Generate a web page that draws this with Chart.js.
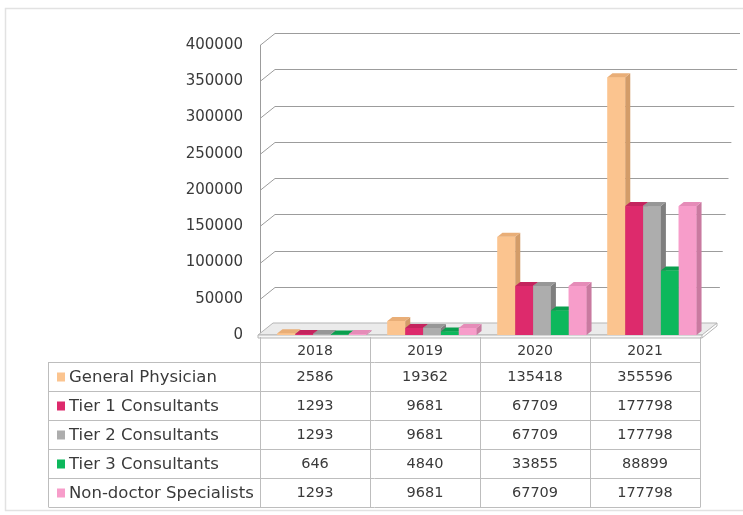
<!DOCTYPE html>
<html>
<head>
<meta charset="utf-8">
<script src="https://cdn.jsdelivr.net/npm/chart.js@4.4.1/dist/chart.umd.min.js"></script>
<style>
  html, body { margin: 0; padding: 0; background: #ffffff; }
  #wrap { position: relative; width: 743px; height: 515px; }
  canvas { display: block; }
</style>
</head>
<body>
<div id="wrap"><canvas id="c" width="743" height="515"></canvas></div>
<script>
// ---- data ----
const categories = ['2018', '2019', '2020', '2021'];
const seriesNames = ['General Physician', 'Tier 1 Consultants', 'Tier 2 Consultants', 'Tier 3 Consultants', 'Non-doctor Specialists'];
const generalPhysician = [2586, 19362, 135418, 355596];
const tier1Consultants = [1293, 9681, 67709, 177798];
const tier2Consultants = [1293, 9681, 67709, 177798];
const tier3Consultants = [646, 4840, 33855, 88899];
const nonDoctorSpecialists = [1293, 9681, 67709, 177798];
const yMin = 0, yMax = 400000, yStep = 50000;

// ---- styles ----
const frontColors = ['#FBC48F', '#DD2A6C', '#ADADAD', '#0DB85C', '#F79DCA'];
const sideColors  = ['#D39C68', '#A81D50', '#7E7E7E', '#088A43', '#C97AA0'];
const topColors   = ['#E9AE77', '#C4245E', '#979797', '#0A9F4E', '#E58CB8'];
const FONT = '"DejaVu Sans", sans-serif';
const TEXT = '#3a3a3a';
const DX = 5, DY = 4;          // bar depth
const WDX = 15, WDY = 12;      // wall depth
const seriesValues = [generalPhysician, tier1Consultants, tier2Consultants, tier3Consultants, nonDoctorSpecialists];

const wallPlugin = {
  id: 'wall',
  beforeDatasetsDraw(chart) {
    const ctx = chart.ctx, ys = chart.scales.y;
    const y0 = ys.getPixelForValue(0), yTop = ys.getPixelForValue(yMax);
    const wallX = 260;
    ctx.save();
    ctx.strokeStyle = '#e2e2e2'; ctx.lineWidth = 1.5;
    ctx.strokeRect(5.5, 8.5, 760, 502);
    ctx.strokeStyle = '#9c9c9c'; ctx.lineWidth = 1;
    for (let v = yMin; v <= yMax; v += yStep) {
      const yf = Math.round(ys.getPixelForValue(v)) + 0.5;
      const xr = 717 + (v / yMax) * 23;
      ctx.beginPath();
      ctx.moveTo(wallX, yf);
      ctx.lineTo(wallX + WDX, yf - WDY);
      ctx.lineTo(xr, yf - WDY);
      ctx.stroke();
    }
    ctx.beginPath();
    ctx.moveTo(wallX + 0.5, yTop); ctx.lineTo(wallX + 0.5, y0);
    ctx.stroke();
    const fl = 258, fr = 702;
    ctx.fillStyle = '#ebebeb';
    ctx.strokeStyle = '#b5b5b5';
    ctx.beginPath();
    ctx.moveTo(fl, y0); ctx.lineTo(fl + WDX, y0 - WDY);
    ctx.lineTo(fr + WDX, y0 - WDY); ctx.lineTo(fr, y0); ctx.closePath();
    ctx.fill(); ctx.stroke();
    ctx.fillStyle = '#f7f7f7';
    ctx.beginPath();
    ctx.moveTo(fl, y0); ctx.lineTo(fr, y0); ctx.lineTo(fr, y0 + 3); ctx.lineTo(fl, y0 + 3); ctx.closePath();
    ctx.fill(); ctx.stroke();
    ctx.beginPath();
    ctx.moveTo(fr, y0 + 3); ctx.lineTo(fr + WDX, y0 - WDY + 3); ctx.lineTo(fr + WDX, y0 - WDY); ctx.stroke();
    ctx.restore();
  },
  afterDatasetsDraw(chart) {
    const ctx = chart.ctx;
    ctx.save();
    for (let i = 0; i < chart.data.datasets.length; i++) {
      const meta = chart.getDatasetMeta(i);
      meta.data.forEach(el => {
        const p = el.getProps(['x', 'y', 'base', 'width'], true);
        const l = p.x - p.width / 2, r = p.x + p.width / 2;
        ctx.fillStyle = frontColors[i];
        ctx.fillRect(l, p.y, r - l, p.base - p.y);
        ctx.fillStyle = sideColors[i];
        ctx.beginPath();
        ctx.moveTo(r, p.y); ctx.lineTo(r + DX, p.y - DY);
        ctx.lineTo(r + DX, p.base - DY); ctx.lineTo(r, p.base); ctx.closePath();
        ctx.fill();
        ctx.fillStyle = topColors[i];
        ctx.beginPath();
        ctx.moveTo(l, p.y); ctx.lineTo(l + DX, p.y - DY);
        ctx.lineTo(r + DX, p.y - DY); ctx.lineTo(r, p.y); ctx.closePath();
        ctx.fill();
      });
    }
    ctx.restore();
  }
};

const tablePlugin = {
  id: 'dataTable',
  afterDraw(chart) {
    const ctx = chart.ctx, xs = chart.scales.x;
    const shift = -7;
    const catW = (xs.right - xs.left) / categories.length;
    const colL = i => Math.round(xs.getPixelForValue(i) + shift - catW / 2) + 0.5;
    const tableLeft = 48.5, headerTop = 337, headerBottom = 362, rowH = 29;
    const bottom = headerBottom + rowH * seriesNames.length;
    ctx.save();
    ctx.strokeStyle = '#bdbdbd'; ctx.lineWidth = 1;
    for (let i = 0; i <= categories.length; i++) {
      const x = i < categories.length ? colL(i) : colL(categories.length - 1) + catW;
      ctx.beginPath(); ctx.moveTo(x, headerTop); ctx.lineTo(x, bottom); ctx.stroke();
    }
    ctx.beginPath(); ctx.moveTo(tableLeft, headerBottom); ctx.lineTo(tableLeft, bottom); ctx.stroke();
    const rightX = colL(categories.length - 1) + catW;
    for (let r = 0; r <= seriesNames.length; r++) {
      const y = Math.round(headerBottom + r * rowH) + 0.5;
      ctx.beginPath(); ctx.moveTo(tableLeft, y); ctx.lineTo(rightX, y); ctx.stroke();
    }
    ctx.fillStyle = TEXT; ctx.textAlign = 'center'; ctx.textBaseline = 'middle';
    ctx.font = '14px ' + FONT;
    categories.forEach((c, i) => {
      ctx.fillText(c, xs.getPixelForValue(i) + shift, (headerTop + headerBottom) / 2 + 2);
    });
    seriesNames.forEach((name, r) => {
      const cy = headerBottom + r * rowH + rowH / 2 + 1;
      ctx.fillStyle = frontColors[r];
      ctx.fillRect(57, cy - 5, 8, 9);
      ctx.fillStyle = TEXT; ctx.textAlign = 'left';
      ctx.font = '16.5px ' + FONT;
      ctx.fillText(name, 69, cy);
      ctx.textAlign = 'center';
      ctx.font = '14.5px ' + FONT;
      seriesValues[r].forEach((v, i) => {
        ctx.fillText(String(v), xs.getPixelForValue(i) + shift, cy);
      });
    });
    ctx.restore();
  }
};

new Chart(document.getElementById('c'), {
  type: 'bar',
  data: {
    labels: categories,
    datasets: seriesNames.map((n, i) => ({
      label: n,
      data: seriesValues[i],
      backgroundColor: frontColors[i],
      borderWidth: 0,
      barPercentage: 1.0,
      categoryPercentage: 0.81
    }))
  },
  options: {
    responsive: false,
    animation: false,
    devicePixelRatio: 1,
    layout: { padding: { top: 45, bottom: 180, left: 0, right: 36 } },
    plugins: { legend: { display: false }, tooltip: { enabled: false } },
    scales: {
      x: { display: false, grid: { display: false } },
      y: {
        min: yMin, max: yMax,
        ticks: { stepSize: yStep, padding: 24, color: TEXT, font: { family: FONT, size: 15 }, callback: v => String(v) },
        grid: { display: false, drawTicks: false },
        border: { display: false },
        afterFit(s) { s.width = 267; }
      }
    }
  },
  plugins: [wallPlugin, tablePlugin]
});
</script>
</body>
</html>
